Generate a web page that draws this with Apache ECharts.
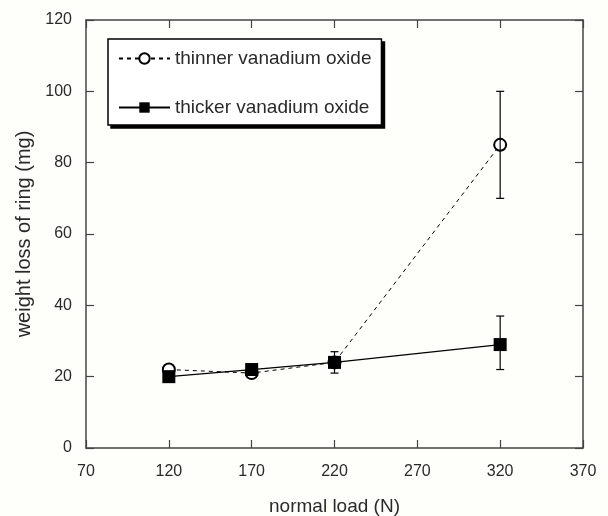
<!DOCTYPE html>
<html><head><meta charset="utf-8">
<script src="https://cdn.jsdelivr.net/npm/echarts@6/dist/echarts.min.js"></script>
<style>html,body{margin:0;padding:0;background:#fefefa;} #c{width:608px;height:516px;}</style>
</head><body><div id="c"></div>
<script>
const loads = [120, 170, 220, 320];
const thinner = [22, 21, 24, 85];
const thicker = [20, 22, 24, 29];
const thinnerErrLow = [null, null, null, 70];
const thinnerErrHigh = [null, null, null, 100];
const thickerErrLow = [null, null, 21, 22];
const thickerErrHigh = [null, null, 27, 37];
const xTicks = [70, 120, 170, 220, 270, 320, 370];
const yTicks = [0, 20, 40, 60, 80, 100, 120];
const seriesNames = ['thinner vanadium oxide', 'thicker vanadium oxide'];

const font = 'Liberation Sans, Arial, sans-serif';
const axisColor = '#444';
const textColor = '#2a2a2a';

function errData(lo, hi) {
  const d = [];
  loads.forEach((x, i) => { if (lo[i] != null) d.push([x, lo[i], hi[i]]); });
  return d;
}
function errRender(params, api) {
  const x = api.value(0), lo = api.value(1), hi = api.value(2);
  const p1 = api.coord([x, lo]), p2 = api.coord([x, hi]);
  const w = 4;
  const st = { stroke: '#000', lineWidth: 1.2 };
  return { type: 'group', children: [
    { type: 'line', shape: { x1: p1[0], y1: p1[1], x2: p2[0], y2: p2[1] }, style: st },
    { type: 'line', shape: { x1: p1[0] - w, y1: p1[1], x2: p1[0] + w, y2: p1[1] }, style: st },
    { type: 'line', shape: { x1: p2[0] - w, y1: p2[1], x2: p2[0] + w, y2: p2[1] }, style: st }
  ]};
}

const xMin = xTicks[0], xMax = xTicks[xTicks.length - 1], xInt = xTicks[1] - xTicks[0];
const yMin = yTicks[0], yMax = yTicks[yTicks.length - 1], yInt = yTicks[1] - yTicks[0];

const baseAxis = {
  type: 'value',
  axisLine: { show: true, onZero: false, lineStyle: { color: axisColor, width: 1.5 } },
  axisTick: { show: true, inside: true, length: 8, lineStyle: { color: axisColor, width: 1.2 } },
  splitLine: { show: false }
};

const legendBase = {
  orient: 'vertical',
  data: seriesNames,
  itemWidth: 51, itemHeight: 13,
  itemGap: 30,
  padding: [10, 10, 8, 10],
  borderRadius: 0,
  selectedMode: false
};

const chart = echarts.init(document.getElementById('c'));
chart.setOption({
  backgroundColor: '#fefefa',
  animation: false,
  grid: { left: 86, right: 25, top: 20, bottom: 68, containLabel: false, outerBoundsMode: 'none' },
  legend: [
    Object.assign({}, legendBase, {
      left: 111, top: 42, z: 5,
      backgroundColor: '#000', borderColor: '#000', borderWidth: 1.5,
      itemStyle: { opacity: 0 }, lineStyle: { opacity: 0 },
      textStyle: { fontFamily: font, fontSize: 19, color: 'rgba(0,0,0,0)' }
    }),
    Object.assign({}, legendBase, {
      left: 108, top: 39, z: 10,
      backgroundColor: '#ffffff', borderColor: '#000', borderWidth: 1.5,
      textStyle: { fontFamily: font, fontSize: 19, color: textColor }
    })
  ],
  xAxis: [
    Object.assign({}, baseAxis, {
      min: xMin, max: xMax, interval: xInt,
      name: 'normal load (N)', nameLocation: 'middle', nameGap: 49,
      nameTextStyle: { fontFamily: font, fontSize: 19, color: textColor },
      axisLabel: { margin: 16, fontFamily: font, fontSize: 16, color: textColor }
    }),
    Object.assign({}, baseAxis, {
      position: 'top', min: xMin, max: xMax, interval: xInt,
      axisLabel: { show: false }
    })
  ],
  yAxis: [
    Object.assign({}, baseAxis, {
      min: yMin, max: yMax, interval: yInt,
      name: 'weight loss of ring (mg)', nameLocation: 'middle', nameGap: 35,
      nameTextStyle: { fontFamily: font, fontSize: 20, color: textColor },
      axisLabel: { margin: 14, fontFamily: font, fontSize: 16, color: textColor }
    }),
    Object.assign({}, baseAxis, {
      position: 'right', min: yMin, max: yMax, interval: yInt,
      axisLabel: { show: false }
    })
  ],
  series: [
    {
      name: seriesNames[0], type: 'line',
      data: loads.map((x, i) => [x, thinner[i]]),
      symbol: 'emptyCircle', symbolSize: 12,
      lineStyle: { color: '#000', width: 1, type: [4, 4] },
      itemStyle: { color: '#000', borderColor: '#000', borderWidth: 1.3 },
      z: 2
    },
    {
      name: seriesNames[1], type: 'line',
      data: loads.map((x, i) => [x, thicker[i]]),
      symbol: 'rect', symbolSize: 13,
      lineStyle: { color: '#000', width: 1.2, type: 'solid' },
      itemStyle: { color: '#000' },
      z: 4
    },
    {
      name: 'thinnerErr', type: 'custom', renderItem: errRender,
      data: errData(thinnerErrLow, thinnerErrHigh), z: 3, silent: true
    },
    {
      name: 'thickerErr', type: 'custom', renderItem: errRender,
      data: errData(thickerErrLow, thickerErrHigh), z: 3, silent: true
    }
  ]
});
</script>
</body></html>
